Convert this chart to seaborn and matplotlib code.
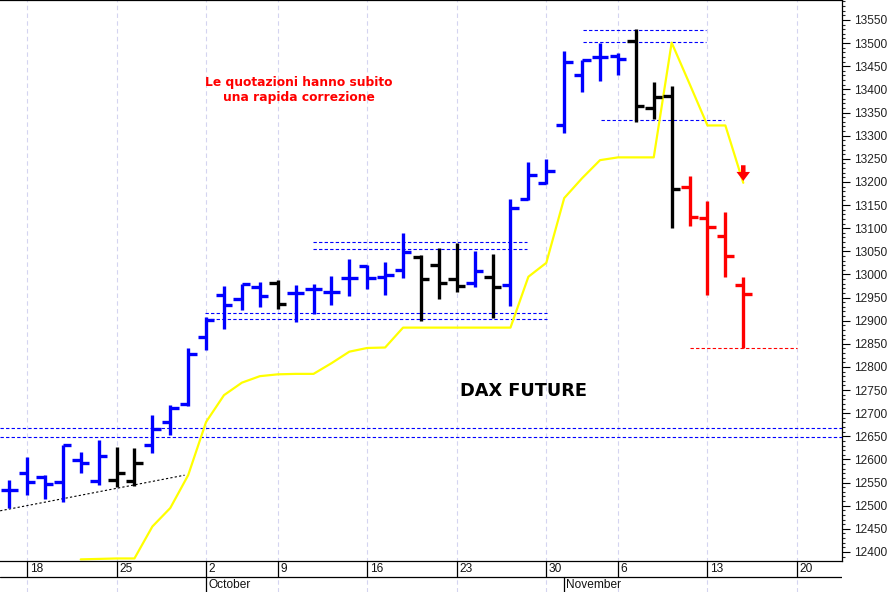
import matplotlib
matplotlib.use("Agg")
import matplotlib.pyplot as plt
from matplotlib.ticker import MultipleLocator
from matplotlib.patches import FancyArrowPatch
import numpy as np
import pandas as pd
import seaborn as sns

# trading days on the time axis (3 Oct and 31 Oct were holidays)
calendar = ["2017-09-15", "2017-09-18", "2017-09-19", "2017-09-20", "2017-09-21", "2017-09-22",
            "2017-09-25", "2017-09-26", "2017-09-27", "2017-09-28", "2017-09-29",
            "2017-10-02", "2017-10-04", "2017-10-05", "2017-10-06",
            "2017-10-09", "2017-10-10", "2017-10-11", "2017-10-12", "2017-10-13",
            "2017-10-16", "2017-10-17", "2017-10-18", "2017-10-19", "2017-10-20",
            "2017-10-23", "2017-10-24", "2017-10-25", "2017-10-26", "2017-10-27",
            "2017-10-30", "2017-11-01", "2017-11-02", "2017-11-03",
            "2017-11-06", "2017-11-07", "2017-11-08", "2017-11-09", "2017-11-10",
            "2017-11-13", "2017-11-14", "2017-11-15", "2017-11-16", "2017-11-17", "2017-11-20"]

# daily bars, 15 Sep -> 15 Nov
opens = [12534, 12571, 12561, 12552, 12599, 12553, 12556, 12553, 12631, 12682, 12720,
         12864, 12955, 12946, 12972, 12981, 12959, 12968, 12963, 12992, 13018, 12994,
         13010, 13038, 13020, 12990, 12982, 12995, 12977, 13162, 13197, 13323, 13431,
         13471, 13472, 13505, 13359, 13385, 13190, 13121, 13083, 12977]
highs = [12556, 12606, 12566, 12631, 12617, 12641, 12628, 12624, 12696, 12718, 12841,
         12909, 12975, 12979, 12984, 12988, 12977, 12979, 12997, 13033, 13020, 13027,
         13090, 13042, 13058, 13067, 13051, 13044, 13162, 13244, 13249, 13484, 13464,
         13501, 13478, 13530, 13415, 13407, 13213, 13159, 13136, 12995]
lows = [12495, 12523, 12514, 12507, 12570, 12545, 12540, 12543, 12613, 12653, 12716,
        12837, 12881, 12922, 12929, 12925, 12898, 12914, 12934, 12953, 12968, 12955,
        12992, 12900, 12946, 12963, 12972, 12905, 12932, 13161, 13195, 13306, 13395,
        13418, 13431, 13330, 13336, 13100, 13105, 12955, 12995, 12840]
closes = [12534, 12552, 12548, 12631, 12592, 12607, 12570, 12593, 12665, 12711, 12829,
          12901, 12934, 12979, 12953, 12936, 12959, 12968, 12963, 12992, 12992, 12999,
          13048, 12990, 12981, 12975, 13007, 12972, 13143, 13215, 13224, 13459, 13464,
          13469, 13465, 13364, 13384, 13184, 13124, 13103, 13040, 12957]
bar_colors = ["blue"] * 6 + ["black"] * 2 + ["blue"] * 7 + ["black"] + ["blue"] * 7 \
    + ["black"] * 3 + ["blue"] + ["black"] + ["blue"] * 7 + ["black"] * 3 + ["red"] * 4

# yellow trailing line
trail = [np.nan] * 4 + [12384, 12385, 12386, 12386, 12455, 12495, 12566, 12681, 12739,
                        12766, 12780, 12784, 12785, 12785, 12808, 12833, 12841, 12842,
                        12885, 12885, 12885, 12885, 12885, 12885, 12885, 12995, 13025,
                        13165, 13208, 13247, 13253, 13253, 13253, 13501, 13412, 13322,
                        13322, 13198]

# horizontal levels (value, first day, last day)
band_levels = [12667, 12648]
box_levels = [12916, 12903, 13071, 13056, 13528, 13502, 13334]
box_from = [10.94, 10.94, 16.97, 16.97, 32.05, 32.05, 33.05]
box_to = [30.04, 30.04, 28.92, 28.92, 38.92, 38.92, 39.92]
low_level, low_from, low_to = 12842, 38.02, 44.0

# support trend line
trend_x = [-0.5, 9.8]
trend_y = [12489, 12566]

note_text = "Le quotazioni hanno subito\nuna rapida correzione"
title_text = "DAX FUTURE"

sns.set_style("white")
plt.rcParams["font.family"] = ["Liberation Sans", "DejaVu Sans"]

days = pd.to_datetime(calendar)
pos = np.arange(len(calendar))
x = np.arange(len(opens))
mondays = pos[days.dayofweek == 0]
month_starts = [i for i in range(1, len(days)) if days[i].month != days[i - 1].month]

xmin, xmax = -0.508, 46.513
W, H = 892, 592

fig = plt.figure(figsize=(8.92, 5.92), dpi=100)
ax = fig.add_axes([0, 31 / H, 842 / W, 561 / H])

ax.vlines(mondays, 12300, 13700, colors="#d4d4f0", lw=0.8, linestyles=(0, (4, 3)), zorder=0)

ax.hlines(band_levels, xmin, xmax, colors="blue", lw=0.8, linestyles=(0, (3, 2)))
ax.hlines(box_levels, box_from, box_to, colors="blue", lw=0.8, linestyles=(0, (3, 2)))
ax.hlines(low_level, low_from, low_to, colors="red", lw=0.8, linestyles=(0, (3, 2)))
ax.plot(trend_x, trend_y, color="black", lw=0.8, ls=(0, (2, 2)))

sns.lineplot(x=pos[:len(trail)], y=trail, color="#ffff00", lw=1.6, ax=ax, zorder=2)

ax.vlines(x, lows, highs, colors=bar_colors, lw=2.4, zorder=3)
ax.hlines(opens, x - 0.47, x, colors=bar_colors, lw=2.4, zorder=3)
ax.hlines(closes, x, x + 0.47, colors=bar_colors, lw=2.4, zorder=3)

arrow = FancyArrowPatch((41, 13242), (41, 13196),
                        arrowstyle="simple,head_width=1.5,head_length=1.0,tail_width=0.5",
                        mutation_scale=6.5, color="red", lw=0, zorder=4)
ax.add_patch(arrow)

ax.text(16.2, 13399, note_text, color="red", fontsize=8.8, fontweight="bold",
        family="DejaVu Sans", ha="center", va="center", linespacing=1.2)
ax.text(28.75, 12749, title_text, color="black", fontsize=12.8, fontweight="bold",
        family="DejaVu Sans", ha="center", va="center")

ax.set_xlim(xmin, xmax)
ax.set_ylim(12380.5, 13593.2)
ax.set_xticks([])
ax.set_xlabel("")
ax.set_ylabel("")
ax.yaxis.tick_right()
ax.set_yticks(np.arange(12400, 13551, 50))
ax.yaxis.set_minor_locator(MultipleLocator(10))
ax.tick_params(axis="y", which="major", length=5.5, width=0.8, pad=3.5,
               labelsize=8.6, colors="black", labelcolor="#222222", right=True, left=False)
ax.tick_params(axis="y", which="minor", length=2.5, width=0.8, right=True, left=False)
ax.spines["left"].set_visible(False)
for s in ["top", "right", "bottom"]:
    ax.spines[s].set_color("black")
    ax.spines[s].set_linewidth(0.9)

# date strip under the chart
ax2 = fig.add_axes([0, 0, 842 / W, 31 / H])
ax2.set_xlim(xmin, xmax)
ax2.set_ylim(0, 31)
ax2.axis("off")
ax2.axhline(15, color="black", lw=0.9)
ax2.vlines(mondays, 15, 31, colors="black", lw=0.9)
ax2.vlines(mondays, 0, 15, colors="#d4d4f0", lw=0.8, linestyles=(0, (4, 3)))
ax2.vlines(month_starts, 0, 15, colors="black", lw=0.9)
for m in mondays:
    ax2.text(m + 0.15, 23, str(days[m].day), fontsize=8.6, color="#111111",
             ha="left", va="center")
for m in month_starts:
    ax2.text(m + 0.12, 7, days[m].strftime("%B"), fontsize=8.6, color="#111111",
             ha="left", va="center")

fig.savefig("out.png", dpi=100)
